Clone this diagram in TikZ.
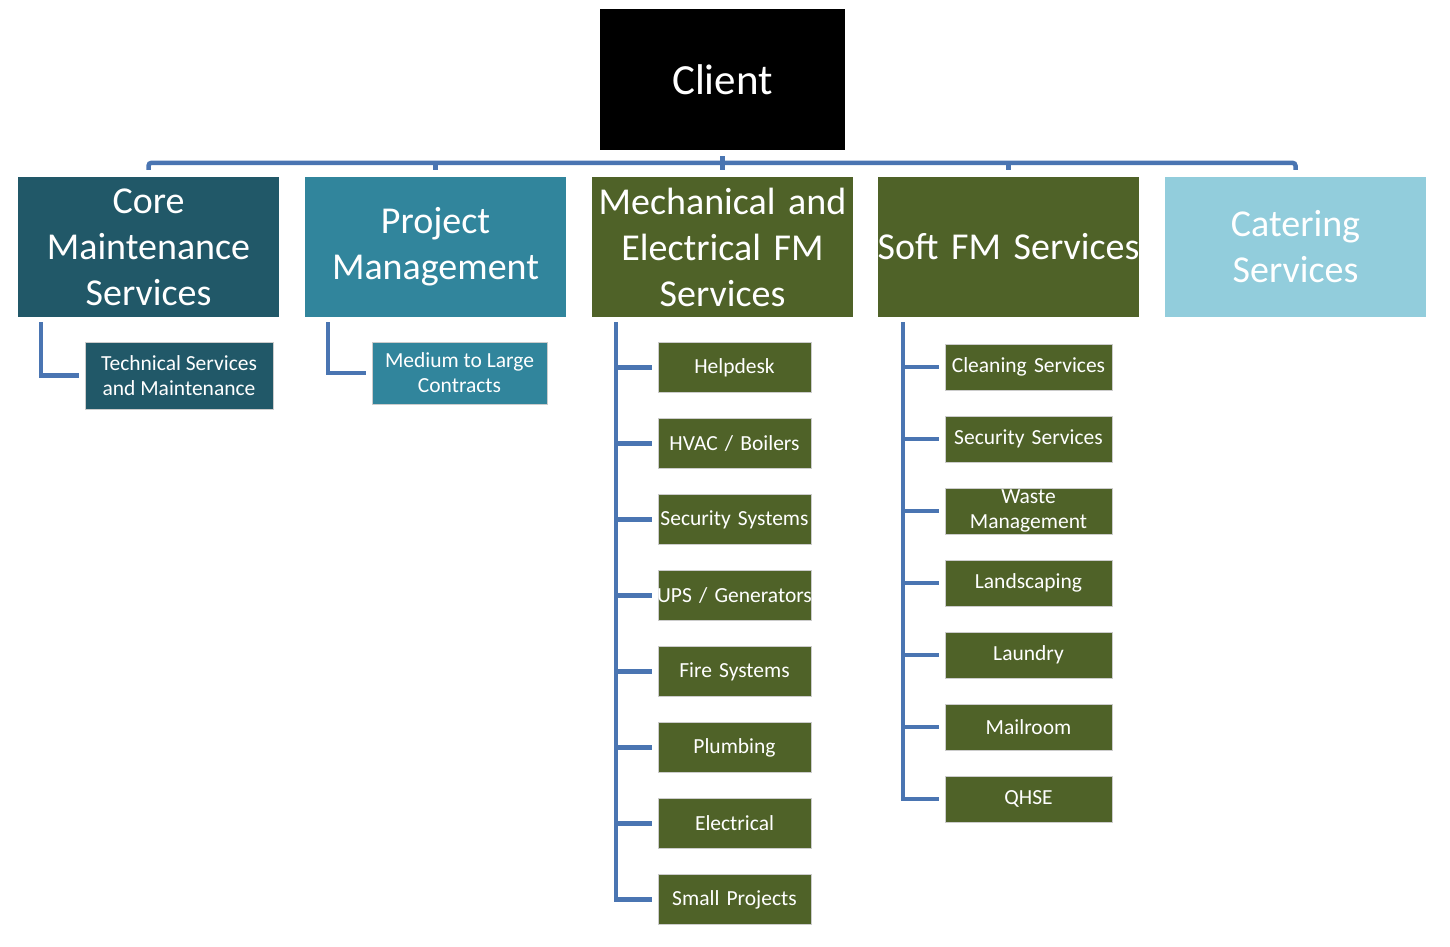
\documentclass[tikz,border=0pt]{standalone}
\usepackage{fontspec}
\setmainfont{Carlito}
\usetikzlibrary{positioning}
\definecolor{coreblue}{RGB}{33,88,104}
\definecolor{projblue}{RGB}{49,133,156}
\definecolor{fmolive}{RGB}{79,98,40}
\definecolor{cateblue}{RGB}{146,205,220}
\definecolor{linkblue}{RGB}{74,117,178}
\newcommand{\oneline}[1]{\makebox[0pt]{#1}}

\begin{document}
\begin{tikzpicture}[x=1pt,y=-1pt,
    head/.style={fill=#1,text=white,minimum width=261pt,minimum height=140pt,inner sep=0pt,
                 align=center,text width=259pt,font=\fontsize{38}{46}\selectfont},
    leaf/.style={fill=#1,draw=white!80!black,line width=0.6pt,text=white,inner sep=0pt,
                 align=center,font=\fontsize{21.5}{25}\selectfont},
    link/.style={draw=linkblue,line width=4.5pt}]
  \useasboundingbox (0,0) rectangle (1450,946);

  % top
  \node[fill=black,text=white,minimum width=245pt,minimum height=141pt,
        font=\fontsize{43}{52}\selectfont] (client) at (722.5,79.5) {Client};

  % services
  \node[head=coreblue] (core)  at (148.5,247)  {Core\\Maintenance\\Services};
  \node[head=projblue] (proj)  at (435.5,247)  {Project\\Management};
  \node[head=fmolive]  (mech)  at (722.5,247)  {Mechanical and\\Electrical FM\\Services};
  \node[head=fmolive]  (soft)  at (1008.5,247) {\oneline{Soft FM Services}};
  \node[head=cateblue] (cater) at (1295.5,247) {Catering\\Services};

  % sub services
  \node[leaf=coreblue,minimum width=188pt,minimum height=67pt] (tech) at (179,375.5)
       {Technical Services\\and Maintenance};
  \node[leaf=projblue,minimum width=175pt,minimum height=62pt] (contr) at (459.5,373)
       {Medium to Large\\Contracts};

  \foreach \txt [count=\i] in {Helpdesk,HVAC / Boilers,\oneline{Security Systems},
                               \oneline{UPS / Generators},Fire Systems,Plumbing,
                               Electrical,Small Projects}
    \node[leaf=fmolive,minimum width=153pt,minimum height=50pt,text width=151pt]
         (m\i) at (734.5,{291.5+76*\i}) {\txt};

  \foreach \txt [count=\i] in {Cleaning Services,Security Services,{Waste\\Management},
                               Landscaping,Laundry,Mailroom,QHSE}
    \node[leaf=fmolive,minimum width=167pt,minimum height=46pt,text width=165pt]
         (s\i) at (1028.5,{295+72*\i}) {\txt};

  % connectors
  \draw[link,rounded corners=3pt] ([yshift=7pt]core.north) -- ([yshift=14pt]core.north)
       -- ([yshift=14pt]cater.north) -- ([yshift=7pt]cater.north);
  \foreach \n in {proj,soft}
    \draw[link] ([yshift=7pt]\n.north) -- ([yshift=14pt]\n.north);
  \draw[link] ([yshift=-6pt]client.south) -- ([yshift=7pt]mech.north);

  \draw[link] ([xshift=23pt,yshift=-5pt]core.south west) |- ([xshift=-6pt]tech.west);
  \draw[link] ([xshift=23pt,yshift=-5pt]proj.south west) |- ([xshift=-6pt]contr.west);

  \coordinate (mtrunk) at ([xshift=24pt,yshift=-5pt]mech.south west);
  \draw[link] (mtrunk) |- ([xshift=-6pt]m8.west);
  \foreach \i in {1,...,7}
    \draw[link] (mtrunk |- m\i.west) -- ([xshift=-6pt]m\i.west);

  \coordinate (strunk) at ([xshift=25pt,yshift=-5pt]soft.south west);
  \draw[link] (strunk) |- ([xshift=-6pt]s7.west);
  \foreach \i in {1,...,6}
    \draw[link] (strunk |- s\i.west) -- ([xshift=-6pt]s\i.west);
\end{tikzpicture}
\end{document}
